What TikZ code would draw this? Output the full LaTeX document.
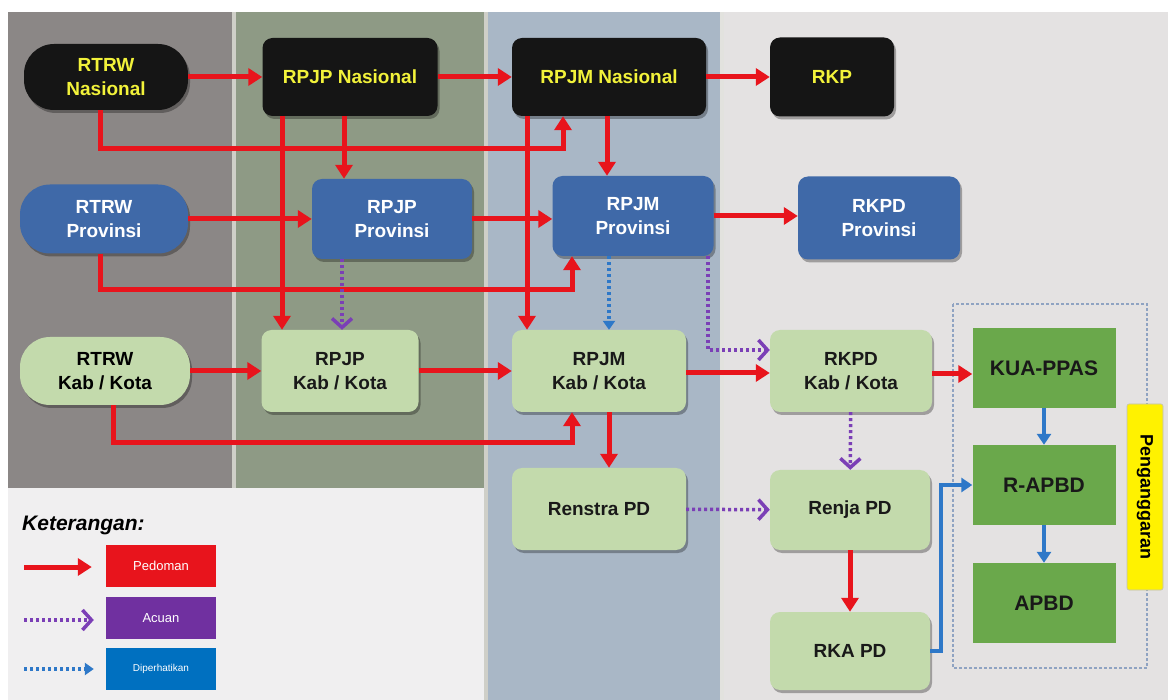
\documentclass[tikz,border=0pt]{standalone}
\usepackage{fontspec}
\setmainfont{Liberation Sans}
\usetikzlibrary{arrows.meta,shadows}
\definecolor{pone}{HTML}{8B8786}
\definecolor{ptwo}{HTML}{8E9A85}
\definecolor{pthree}{HTML}{A9B7C6}
\definecolor{pfour}{HTML}{E4E2E2}
\definecolor{plow}{HTML}{F0EFF0}
\definecolor{sepc}{HTML}{CFCFC8}
\definecolor{redc}{HTML}{E8141C}
\definecolor{purc}{HTML}{7B3FB6}
\definecolor{bluc}{HTML}{2E78C8}
\definecolor{blkfill}{HTML}{151515}
\definecolor{yelt}{HTML}{F2F23A}
\definecolor{bluefill}{HTML}{3F69A8}
\definecolor{grnfill}{HTML}{C3DAAC}
\definecolor{dgrn}{HTML}{6AA84B}
\definecolor{dashc}{HTML}{8FA3C2}
\definecolor{legred}{HTML}{E8141C}
\definecolor{legpur}{HTML}{7030A0}
\definecolor{legblu}{HTML}{0070C0}
\begin{document}
\begin{tikzpicture}[x=1pt,y=-1pt,
  shade box/.style={drop shadow={shadow xshift=2pt,shadow yshift=-3pt,opacity=0.3,fill=black}},
  boxtxt/.style={font=\fontsize{19}{24}\selectfont\bfseries, align=center, inner sep=2pt},
  blackbox/.style={boxtxt, shade box, fill=blkfill, text=yelt, rounded corners=10pt},
  bluebox/.style={boxtxt, shade box, fill=bluefill, text=white, rounded corners=10pt},
  greenbox/.style={boxtxt, shade box, fill=grnfill, text=black!90, rounded corners=10pt},
  budgetbox/.style={boxtxt, font=\fontsize{21}{24}\selectfont\bfseries, fill=dgrn, text=black!90, minimum width=143pt, minimum height=80pt},
  pill/.style={rounded corners=30pt},
  redarrow/.style={draw=redc, line width=5pt, -{Triangle[length=14pt,width=17pt]}},
  purarrow/.style={draw=purc, line width=3.5pt, dash pattern=on 3pt off 3pt, -{Straight Barb[length=9pt,width=20pt,line width=3.5pt]}},
  bluarrow/.style={draw=bluc, line width=3.5pt, dash pattern=on 3pt off 3pt, -{Triangle[length=9pt,width=12pt]}},
  blusolid/.style={draw=bluc, line width=4pt, -{Triangle[length=11pt,width=14pt]}},
  legbox/.style={text=white, font=\fontsize{13}{15}\selectfont, minimum width=110pt, minimum height=42pt, inner sep=1pt}
]
\useasboundingbox (0,0) rectangle (1168,700);
\fill[white] (0,0) rectangle (1168,700);
% panels
\fill[pone] (8,12) rectangle (232,488);
\fill[sepc] (232,12) rectangle (236,488);
\fill[ptwo] (236,12) rectangle (484,488);
\fill[sepc] (484,12) rectangle (488,700);
\fill[pthree] (488,12) rectangle (720,700);
\fill[sepc!60!white] (720,12) rectangle (724,700);
\fill[pfour] (724,12) rectangle (1168,700);
\fill[plow] (8,488) rectangle (484,700);

% budget dashed frame
\draw[dashc, line width=2pt, dash pattern=on 3pt off 2pt] (953,304) rectangle (1147,668);

% nodes row 1
\node[blackbox, pill, minimum width=164pt, minimum height=66pt] (rtrwn) at (106,77) {RTRW\\Nasional};
\node[blackbox, minimum width=175pt, minimum height=78pt] (rpjpn) at (350,77) {RPJP Nasional};
\node[blackbox, minimum width=194pt, minimum height=78pt] (rpjmn) at (609,77) {RPJM Nasional};
\node[blackbox, minimum width=124pt, minimum height=79pt] (rkp) at (832,77) {RKP};
% row 2
\node[bluebox, pill, minimum width=168pt, minimum height=69pt] (rtrwp) at (104,219) {RTRW\\Provinsi};
\node[bluebox, minimum width=160pt, minimum height=80pt] (rpjpp) at (392,219) {RPJP\\Provinsi};
\node[bluebox, minimum width=161pt, minimum height=80pt] (rpjmp) at (633,216) {RPJM\\Provinsi};
\node[bluebox, minimum width=162pt, minimum height=83pt] (rkpdp) at (879,218) {RKPD\\Provinsi};
% row 3
\node[greenbox, pill, minimum width=170pt, minimum height=68pt, text=black] (rtrwk) at (105,371) {RTRW\\Kab / Kota};
\node[greenbox, minimum width=157pt, minimum height=82pt] (rpjpk) at (340,371) {RPJP\\Kab / Kota};
\node[greenbox, minimum width=174pt, minimum height=82pt] (rpjmk) at (599,371) {RPJM\\Kab / Kota};
\node[greenbox, minimum width=162pt, minimum height=82pt] (rkpdk) at (851,371) {RKPD\\Kab / Kota};
% row 4/5
\node[greenbox, minimum width=174pt, minimum height=82pt] (renstra) at (599,509) {Renstra PD};
\node[greenbox, minimum width=160pt, minimum height=80pt] (renja) at (850,510) {Renja PD};
\node[greenbox, minimum width=160pt, minimum height=78pt] (rka) at (850,651) {RKA PD};
% budget
\node[budgetbox] (kua) at (1044,368) {KUA-PPAS};
\node[budgetbox] (rapbd) at (1044,485) {R-APBD};
\node[budgetbox] (apbd) at (1044,603) {APBD};
\node[fill=yellow, draw=black!25, line width=0.6pt, rounded corners=2pt, rotate=-90, minimum width=186pt, minimum height=36pt, inner sep=1pt, font=\fontsize{18}{20}\selectfont\bfseries] (angg) at (1145,497) {Penganggaran};

% red arrows, row 1
\draw[redarrow] (rtrwn) -- (rpjpn);
\draw[redarrow] (rpjpn) -- (rpjmn);
\draw[redarrow] (rpjmn) -- (rkp);
\draw[redarrow] ([xshift=-6pt]rtrwn.south) -- ++(0,38) -| ([xshift=-46pt]rpjmn.south);
\draw[redarrow] ([xshift=-6pt]rpjpn.south) -- ([xshift=-6pt]rpjpn.south |- rpjpp.north);
\draw[redarrow] ([xshift=-68pt]rpjpn.south) -- ([xshift=-68pt]rpjpn.south |- rpjpk.north);
\draw[redarrow] ([xshift=-82pt]rpjmn.south) -- ([xshift=-82pt]rpjmn.south |- rpjmk.north);
\draw[redarrow] ([xshift=-2pt]rpjmn.south) -- ([xshift=-2pt]rpjmn.south |- rpjmp.north);
% row 2
\draw[redarrow] (rtrwp) -- (rpjpp);
\draw[redarrow] (rpjpp.east) -- (rpjpp.east -| rpjmp.west);
\draw[redarrow] (rpjmp.east) -- (rpjmp.east -| rkpdp.west);
\draw[redarrow] ([xshift=-4pt]rtrwp.south) -- ++(0,36) -| ([xshift=-61pt]rpjmp.south);
\draw[purarrow] ([xshift=-50pt]rpjpp.south) -- ([xshift=-50pt]rpjpp.south |- rpjpk.north);
\draw[bluarrow] ([xshift=-24pt]rpjmp.south) -- ([xshift=-24pt]rpjmp.south |- rpjmk.north);
\draw[purarrow] ([xshift=75pt]rpjmp.south) |- ([yshift=21pt]rkpdk.west);
% row 3
\draw[redarrow] (rtrwk) -- (rpjpk);
\draw[redarrow] (rpjpk) -- (rpjmk);
\draw[redarrow] ([yshift=-2pt]rpjmk.east) -- ([yshift=-2pt]rkpdk.west);
\draw[redarrow] ([xshift=8pt]rtrwk.south) -- ++(0,37) -| ([xshift=-27pt]rpjmk.south);
\draw[redarrow] ([xshift=10pt]rpjmk.south) -- ([xshift=10pt]rpjmk.south |- renstra.north);
\draw[redarrow] ([yshift=-3pt]rkpdk.east) -- ([yshift=-3pt]rkpdk.east -| kua.west);
% lower
\draw[purarrow] (renstra) -- (renja);
\draw[purarrow] (rkpdk) -- (renja);
\draw[redarrow] (renja) -- (rka);
\draw[blusolid] (kua) -- (rapbd);
\draw[blusolid] (rapbd) -- (apbd);
\draw[blusolid] (rka.east) -- ++(11,0) |- (rapbd.west);

% legend
\node[anchor=west, font=\fontsize{21}{24}\selectfont\bfseries\itshape, inner sep=0pt] (ket) at (22,525) {Keterangan:};
\node[legbox, fill=legred] (lped) at (161,566) {Pedoman};
\node[legbox, fill=legpur] (lacu) at (161,618) {Acuan};
\node[legbox, fill=legblu, font=\fontsize{10}{12}\selectfont] (ldip) at (161,669) {Diperhatikan};
\coordinate (la1) at (24,567);
\coordinate (la2) at (24,620);
\coordinate (la3) at (24,669);
\draw[redarrow] (la1) -- ([xshift=-14pt]lped.west |- la1);
\draw[purarrow] (la2) -- ([xshift=-12pt]lacu.west |- la2);
\draw[bluarrow] (la3) -- ([xshift=-12pt]ldip.west |- la3);
\end{tikzpicture}
\end{document}
